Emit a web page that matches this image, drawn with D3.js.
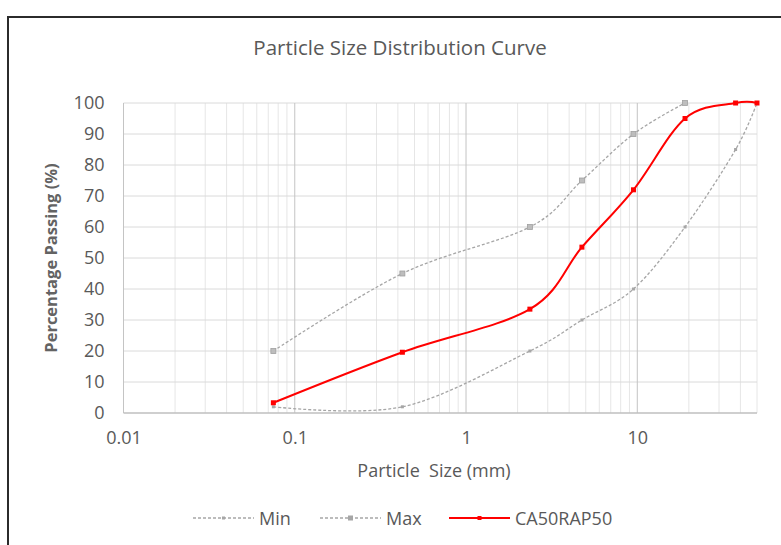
<!DOCTYPE html>
<html>
<head>
<meta charset="utf-8">
<script src="https://cdn.jsdelivr.net/npm/d3@7"></script>
<style>
  html, body { margin: 0; padding: 0; background: #fff; }
  svg { display: block; font-family: "Open Sans", Lato, sans-serif; }
</style>
</head>
<body>
<svg id="chart" width="781" height="545"></svg>
<script>
// ---- data ----
const sieveSizes = [0.075, 0.425, 2.36, 4.75, 9.5, 19, 37.5, 50];
const minValues = [2, 2, 20, 30, 40, 60, 85, 100];
const maxSizes = [0.075, 0.425, 2.36, 4.75, 9.5, 19];
const maxValues = [20, 45, 60, 75, 90, 100];
const blendValues = [3.3, 19.6, 33.5, 53.5, 72, 95, 100, 100];
const xTickLabels = [0.01, 0.1, 1, 10];
const yTickLabels = [0, 10, 20, 30, 40, 50, 60, 70, 80, 90, 100];
const seriesNames = ["Min", "Max", "CA50RAP50"];

const FONT = "'Open Sans', Lato, sans-serif";
const FS = 18;
const svg = d3.select("#chart");

// outer chart border (cropped at right/bottom)
svg.append("path")
  .attr("d", "M8,560 L8,17 L800,17")
  .attr("fill", "none").attr("stroke", "#2b2b2b").attr("stroke-width", 2);

const x = d3.scaleLog().domain([0.01, 50]).range([123.5, 757]);
const y = d3.scaleLinear().domain([0, 100]).range([413, 103]);

// vertical gridlines
const allX = x.ticks();
const isMajor = v => Math.abs(Math.log10(v) - Math.round(Math.log10(v))) < 1e-9;
svg.append("g").selectAll("line").data(allX.filter(v => !isMajor(v))).join("line")
  .attr("x1", d => x(d)).attr("x2", d => x(d))
  .attr("y1", y(0)).attr("y2", y(100))
  .attr("stroke", "#e6e6e6").attr("stroke-width", 1);
// horizontal gridlines
svg.append("g").selectAll("line").data(yTickLabels.filter(v => v > 0)).join("line")
  .attr("x1", x(0.01)).attr("x2", x(50))
  .attr("y1", d => y(d)).attr("y2", d => y(d))
  .attr("stroke", "#dadada").attr("stroke-width", 1);
svg.append("g").selectAll("line").data(allX.filter(isMajor)).join("line")
  .attr("x1", d => x(d)).attr("x2", d => x(d))
  .attr("y1", y(0)).attr("y2", y(100))
  .attr("stroke", "#c4c4c4").attr("stroke-width", 1);
// bottom axis line
svg.append("line")
  .attr("x1", x(0.01)).attr("x2", x(50))
  .attr("y1", y(0)).attr("y2", y(0))
  .attr("stroke", "#bfbfbf").attr("stroke-width", 1.5);

// axes labels via d3 axes
const yAxis = svg.append("g").attr("transform", `translate(${x(0.01)},0)`)
  .call(d3.axisLeft(y).tickValues(yTickLabels).tickSize(0).tickPadding(19));
yAxis.select(".domain").remove();
yAxis.selectAll("text").attr("font-size", FS).attr("fill", "#595959")
  .attr("font-family", FONT);

const xAxis = svg.append("g").attr("transform", `translate(0,${y(0)})`)
  .call(d3.axisBottom(x).tickValues(xTickLabels).tickFormat(d3.format("~g")).tickSize(0).tickPadding(18));
xAxis.select(".domain").remove();
xAxis.selectAll("text").attr("font-size", FS).attr("fill", "#595959")
  .attr("font-family", FONT);

// titles
svg.append("text").attr("x", 400).attr("y", 55).attr("text-anchor", "middle")
  .attr("font-size", 20.5).attr("fill", "#595959").text("Particle Size Distribution Curve");
svg.append("text").attr("x", 434).attr("y", 477).attr("text-anchor", "middle")
  .attr("font-size", FS).attr("fill", "#595959").attr("xml:space", "preserve")
  .text("Particle  Size (mm)");
svg.append("text").attr("transform", "translate(57,258) rotate(-90)").attr("text-anchor", "middle")
  .attr("font-size", 16.5).attr("font-weight", "bold").attr("fill", "#636363")
  .text("Percentage Passing (%)");

// lines
const line = d3.line().x(d => x(d[0])).y(d => y(d[1])).curve(d3.curveCatmullRom.alpha(0));
const minData = sieveSizes.map((s, i) => [s, minValues[i]]);
const maxData = maxSizes.map((s, i) => [s, maxValues[i]]);
const blendData = sieveSizes.map((s, i) => [s, blendValues[i]]);

svg.append("path").datum(minData).attr("d", line)
  .attr("fill", "none").attr("stroke", "#a6a6a6").attr("stroke-width", 1.3).attr("stroke-dasharray", "3,2");
svg.append("path").datum(maxData).attr("d", line)
  .attr("fill", "none").attr("stroke", "#a6a6a6").attr("stroke-width", 1.3).attr("stroke-dasharray", "3,2");
svg.append("path").datum(blendData).attr("d", line)
  .attr("fill", "none").attr("stroke", "#ff0000").attr("stroke-width", 2);

// markers
svg.append("g").selectAll("rect").data(minData).join("rect")
  .attr("x", d => x(d[0]) - 1.5).attr("y", d => y(d[1]) - 1.5).attr("width", 3).attr("height", 3)
  .attr("fill", "#a6a6a6");
svg.append("g").selectAll("rect").data(maxData).join("rect")
  .attr("x", d => x(d[0]) - 2.5).attr("y", d => y(d[1]) - 2.5).attr("width", 5).attr("height", 5)
  .attr("fill", "#bdbdbd").attr("stroke", "#a0a0a0").attr("stroke-width", 0.8);
svg.append("g").selectAll("rect").data(blendData).join("rect")
  .attr("x", d => x(d[0]) - 2.5).attr("y", d => y(d[1]) - 2.5).attr("width", 5).attr("height", 5)
  .attr("fill", "#ff0000");

// legend
const legendItems = [
  {name: seriesNames[0], x0: 193, color: "#a6a6a6", dash: "3,2", w: 1.3, m: 3},
  {name: seriesNames[1], x0: 320, color: "#a6a6a6", dash: "3,2", w: 1.3, m: 5},
  {name: seriesNames[2], x0: 449, color: "#ff0000", dash: null, w: 2, m: 4}
];
const lg = svg.append("g");
legendItems.forEach(it => {
  lg.append("line").attr("x1", it.x0).attr("x2", it.x0 + 61).attr("y1", 518).attr("y2", 518)
    .attr("stroke", it.color).attr("stroke-width", it.w).attr("stroke-dasharray", it.dash);
  lg.append("rect").attr("x", it.x0 + 30.5 - it.m / 2).attr("y", 518 - it.m / 2)
    .attr("width", it.m).attr("height", it.m).attr("fill", it.color);
  lg.append("text").attr("x", it.x0 + 66).attr("y", 524.5).attr("font-size", FS)
    .attr("fill", "#595959").text(it.name);
});
</script>
</body>
</html>
